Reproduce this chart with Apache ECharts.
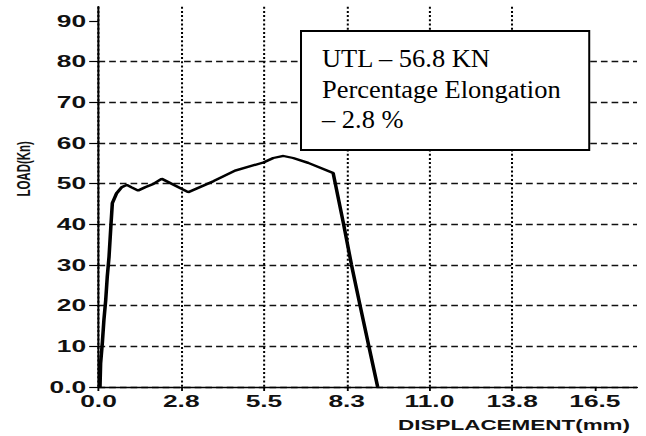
<!DOCTYPE html>
<html>
<head>
<meta charset="utf-8">
<script src="https://cdn.jsdelivr.net/npm/echarts@6/dist/echarts.min.js"></script>
<style>
  html, body { margin: 0; padding: 0; background: #fff; overflow: hidden; }
  /* The plot is laid out on a narrow canvas and widened horizontally,
     giving the stretched look of the printed test record. */
  #chart { width: 417px; height: 436px; transform: scaleX(1.5492); transform-origin: 0 0; }
</style>
</head>
<body>
<div id="chart"></div>
<script>
// Load–displacement record of the tensile test
const displacement = [0.05, 0.07, 0.13, 0.18, 0.24, 0.29, 0.35, 0.41, 0.46,
  0.60, 0.77, 0.94, 1.10, 1.32, 1.55, 1.82, 2.10,
  2.98, 3.82, 4.54, 5.48, 5.81, 6.15, 6.47, 6.97, 7.80,
  8.14, 8.41, 8.69, 8.99, 9.28];
const load = [0, 5.8, 11.1, 16.5, 21.4, 27, 32, 39.4, 45.2,
  47.6, 49.1, 49.7, 49.1, 48.3, 49.1, 49.9, 51.2,
  47.9, 50.6, 53.2, 55.2, 56.3, 56.8, 56.3, 55.1, 52.6,
  40.3, 30.0, 20.2, 9.9, 0];

// Axis ticks and their printed labels
const xTickValues = [0, 2.75, 5.5, 8.25, 11, 13.75, 16.5];
const xTickLabels = ['0.0', '2.8', '5.5', '8.3', '11.0', '13.8', '16.5'];
const yTickValues = [0, 10, 20, 30, 40, 50, 60, 70, 80, 90];
const yTickLabels = ['0.0', '10', '20', '30', '40', '50', '60', '70', '80', '90'];

// Test results
const utl = 56.8;
const elongation = 2.8;

const SX = 646 / 417;           // horizontal stretch applied by CSS
const tickFont = { fontFamily: '"Liberation Sans", Arial, sans-serif', fontWeight: 'bold', color: '#111' };
const noteFont = '"Liberation Serif", "Times New Roman", serif';

const chart = echarts.init(document.getElementById('chart'), null, { renderer: 'svg' });

function noteLine(text, y) {
  return { type: 'text', x: 21, y: y, scaleX: 1.08, z: 101,
    style: { text: text, fontSize: 24.5, fontFamily: noteFont, fill: '#000', verticalAlign: 'middle' } };
}

chart.setOption({
  animation: false,
  backgroundColor: '#fff',
  grid: { left: 98.5 / SX, right: 417 - 637 / SX, top: 6.7, bottom: 49 },
  xAxis: {
    type: 'value', min: 0, max: 17.9, interval: 2.75,
    name: 'DISPLACEMENT(mm)', nameLocation: 'end', nameGap: -4.5,
    nameTextStyle: Object.assign({}, tickFont, { fontSize: 14.5, align: 'right', verticalAlign: 'top', padding: [31, 0, 0, 0] }),
    axisLine: { lineStyle: { color: '#000', width: 1.4 } },
    axisTick: { customValues: xTickValues, length: 4, lineStyle: { color: '#000', width: 1.2 } },
    axisLabel: Object.assign({}, tickFont, {
      customValues: xTickValues, fontSize: 17, margin: 6,
      formatter: v => xTickLabels[xTickValues.indexOf(v)]
    }),
    splitLine: { show: true, showMaxLine: false, lineStyle: { color: '#000', width: 1.3, type: [2, 2.2] } }
  },
  yAxis: {
    type: 'value', min: 0, max: 93.5, interval: 10,
    name: 'LOAD(Kn)', nameLocation: 'middle', nameRotate: 90, nameGap: 41,
    nameTextStyle: Object.assign({}, tickFont, { fontSize: 11.5, padding: [0, 0, 0, 56] }),
    axisLine: { lineStyle: { color: '#000', width: 1.3 } },
    axisTick: { customValues: yTickValues, length: 6, lineStyle: { color: '#000', width: 1.2 } },
    axisLabel: Object.assign({}, tickFont, {
      customValues: yTickValues, fontSize: 17, margin: 8,
      formatter: v => yTickLabels[yTickValues.indexOf(v)]
    }),
    splitLine: { show: true, showMaxLine: false, lineStyle: { color: '#111', width: 1.3, type: [4.3, 2.6] } }
  },
  series: [{
    type: 'line',
    data: displacement.map((d, i) => [d, load[i]]),
    showSymbol: false,
    lineStyle: { color: '#000', width: 2.3 },
    z: 3
  }],
  graphic: [{
    type: 'group',
    x: 301 / SX, y: 31, scaleX: 1 / SX, z: 100,
    children: [
      { type: 'rect', z: 100, shape: { x: 0, y: 0, width: 288, height: 119 },
        style: { fill: '#fff', stroke: '#000', lineWidth: 2 } },
      noteLine('UTL \u2013 ' + utl + ' KN', 28),
      noteLine('Percentage Elongation', 58.5),
      noteLine('\u2013 ' + elongation + ' %', 88.5)
    ]
  }]
});
</script>
</body>
</html>
